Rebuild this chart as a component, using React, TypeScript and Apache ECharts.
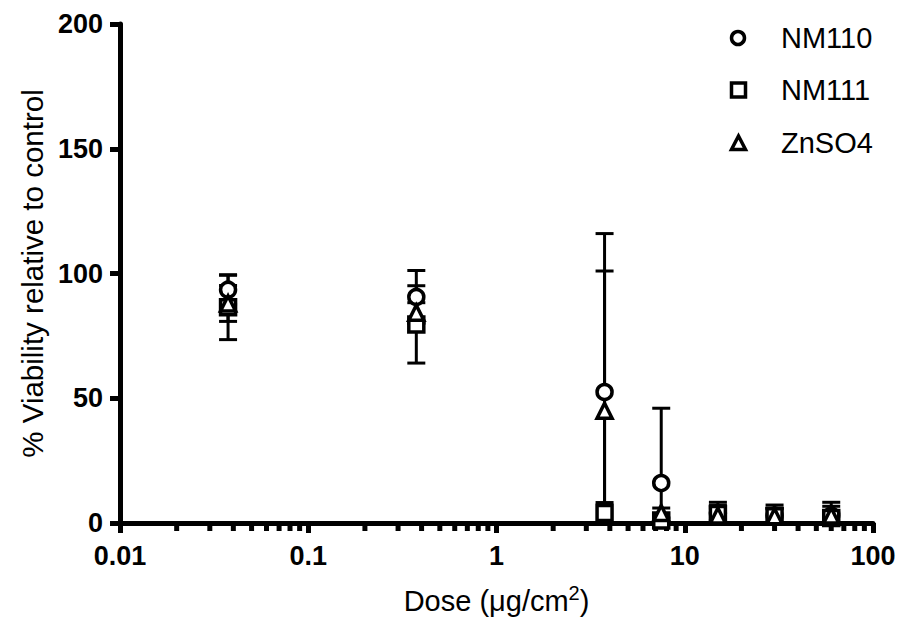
import React, { useEffect, useRef } from "react";
import * as echarts from "echarts";

const doses = [0.0375, 0.375, 3.75, 7.5, 15, 30, 60];
const nm110Mean = [93.5, 90.6, 52.5, 16, 4, 3, 3];
const nm110Sd = [5.8, 10.6, 63.5, 30, 3, 3, 5.3];
const nm111Mean = [86.5, 79.6, 4, 1, 3.6, 2.7, 2];
const nm111Sd = [13, 15.5, 4.2, 1, 4.7, 4.5, 2];
const znso4Mean = [88, 84.3, 45, 4, 3, 2.7, 3];
const znso4Sd = [7.2, 4, 56, 2, 3, 3, 3.7];
const seriesNames = ["NM110", "NM111", "ZnSO4"];
const yTicks = [0, 50, 100, 150, 200];
const xMajorTicks = [0.01, 0.1, 1, 10, 100];
const xMinorTicks = [
  0.02, 0.03, 0.04, 0.05, 0.06, 0.07, 0.08, 0.09,
  0.2, 0.3, 0.4, 0.5, 0.6, 0.7, 0.8, 0.9,
  2, 3, 4, 5, 6, 7, 8, 9,
  20, 30, 40, 50, 60, 70, 80, 90,
];

const FONT = "'Liberation Sans', Arial, sans-serif";

export default function App() {
  const ref = useRef<HTMLDivElement>(null);
  useEffect(() => {
    document.body.style.margin = "0";
    if (!ref.current) return;
    const chart = echarts.init(ref.current, null, { renderer: "svg" });

    const means = [nm110Mean, nm111Mean, znso4Mean];
    const sds = [nm110Sd, nm111Sd, znso4Sd];
    const symbols = ["circle", "rect", "triangle"];

    const errSeries = means.map((m, k) => ({
      type: "custom",
      name: seriesNames[k] + " SD",
      z: 3,
      silent: true,
      data: doses.map((d, i) => [d, m[i] - sds[k][i], m[i] + sds[k][i]]),
      encode: { x: 0, y: [1, 2] },
      renderItem: (params: any, api: any) => {
        const x = api.value(0);
        const lo = api.value(1);
        const hi = api.value(2);
        const top = api.coord([x, hi]);
        const bot = api.coord([x, Math.max(lo, 0)]);
        const st = { stroke: "#000", lineWidth: 3 };
        const children: any[] = [
          { type: "line", shape: { x1: top[0], y1: top[1], x2: bot[0], y2: bot[1] }, style: st },
          { type: "line", shape: { x1: top[0] - 9, y1: top[1], x2: top[0] + 9, y2: top[1] }, style: st },
        ];
        if (lo >= 0) {
          children.push({ type: "line", shape: { x1: bot[0] - 9, y1: bot[1], x2: bot[0] + 9, y2: bot[1] }, style: st });
        }
        return { type: "group", children };
      },
    }));

    const markerSeries = means.map((m, k) => ({
      type: "scatter",
      name: seriesNames[k],
      z: 4 + k,
      symbol: symbols[k],
      symbolSize: 15,
      itemStyle: { color: "#fff", borderColor: "#000", borderWidth: 3.5, opacity: 1 },
      data: doses.map((d, i) => [d, m[i]]),
    }));

    const minorTickSeries = {
      type: "custom",
      name: "minorTicks",
      z: 2,
      silent: true,
      data: xMinorTicks.map((v) => [v, 0]),
      encode: { x: 0, y: 1 },
      renderItem: (params: any, api: any) => {
        const p = api.coord([api.value(0), 0]);
        return {
          type: "line",
          shape: { x1: p[0], y1: p[1], x2: p[0], y2: p[1] + 8 },
          style: { stroke: "#000", lineWidth: 5 },
        };
      },
    };

    const legendRows = [38, 90, 143];
    const legendGraphics: any[] = [
      { type: "circle", shape: { cx: 738, cy: legendRows[0], r: 6.5 }, style: { fill: "#fff", stroke: "#000", lineWidth: 3.5 } },
      { type: "rect", shape: { x: 731.5, y: legendRows[1] - 7, width: 14, height: 14 }, style: { fill: "#fff", stroke: "#000", lineWidth: 3.5 } },
      {
        type: "polygon",
        shape: { points: [[738.5, legendRows[2] - 7], [745.5, legendRows[2] + 6.5], [731.5, legendRows[2] + 6.5]] },
        style: { fill: "#fff", stroke: "#000", lineWidth: 3.5 },
      },
    ];
    seriesNames.forEach((n, k) => {
      legendGraphics.push({
        type: "text",
        x: 781,
        y: legendRows[k],
        style: { text: n, fontSize: 29, fontFamily: FONT, fill: "#000", verticalAlign: "middle", align: "left" },
      });
    });

    chart.setOption({
      animation: false,
      backgroundColor: "#fff",
      grid: { left: 120, right: 28, top: 24, bottom: 103, containLabel: false },
      xAxis: {
        type: "log",
        logBase: 10,
        min: 0.01,
        max: 100,
        name: "{t|Dose (μg/cm}{s|2}{t|)}",
        nameLocation: "middle",
        nameGap: 60,
        nameTextStyle: {
          rich: {
            t: { fontSize: 29, fontFamily: FONT, color: "#000", lineHeight: 36, verticalAlign: "middle" },
            s: { fontSize: 20, fontFamily: FONT, color: "#000", lineHeight: 16, verticalAlign: "top" },
          },
        },
        axisLine: { show: true, lineStyle: { color: "#000", width: 5 } },
        axisTick: { show: true, length: 10, lineStyle: { color: "#000", width: 5 }, customValues: xMajorTicks },
        axisLabel: {
          customValues: xMajorTicks,
          fontSize: 27,
          fontWeight: "bold",
          fontFamily: FONT,
          color: "#000",
          margin: 19,
          formatter: (v: number) => String(v),
        },
        splitLine: { show: false },
        minorTick: { show: false },
      },
      yAxis: {
        type: "value",
        min: 0,
        max: 200,
        interval: 50,
        name: "% Viability relative to control",
        nameLocation: "middle",
        nameGap: 72,
        nameTextStyle: { fontSize: 29.5, fontFamily: FONT, color: "#000" },
        axisLine: { show: true, lineStyle: { color: "#000", width: 5 } },
        axisTick: { show: true, length: 10, lineStyle: { color: "#000", width: 5 }, customValues: yTicks },
        axisLabel: {
          customValues: yTicks,
          fontSize: 27,
          fontWeight: "bold",
          fontFamily: FONT,
          color: "#000",
          margin: 17,
        },
        splitLine: { show: false },
      },
      graphic: legendGraphics,
      series: [minorTickSeries, ...errSeries, ...markerSeries],
    });
    return () => chart.dispose();
  }, []);
  return <div ref={ref} style={{ width: 901, height: 626 }} />;
}
